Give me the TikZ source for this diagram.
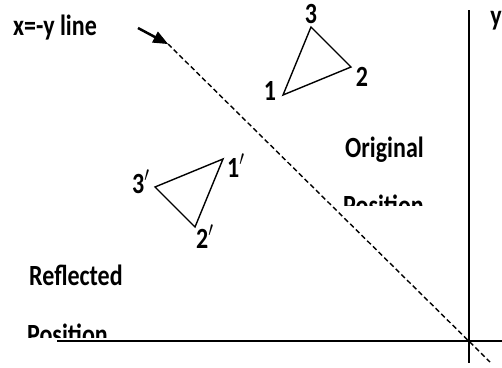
\documentclass[tikz,border=0pt]{standalone}
\usepackage{fontspec}
\setmainfont{Carlito}
\usetikzlibrary{arrows}
\newcommand{\talltext}[1]{\scalebox{1}[1.22]{#1}}

\begin{document}
\begin{tikzpicture}[x=1pt,y=-1pt]
	\tikzset{lbl/.style={font=\bfseries\fontsize{24}{28}\selectfont, inner sep=0pt, anchor=base},
		axis/.style={line width=1.6pt},
		tri/.style={line width=1.4pt, line join=miter}}
	\useasboundingbox (0,0) rectangle (502,367);
	% axes and the mirror line
	\coordinate (ytop) at (469,10);
	\coordinate (ybot) at (469,363);
	\coordinate (xleft) at (57,341);
	\coordinate (xright) at (502,341);
	\coordinate (mtop) at (168,44);
	\coordinate (mbot) at (490,362);
	\draw[axis] (ytop) -- (ybot);
	\draw[axis] (xleft) -- (xright);
	\draw[line width=1.4pt, dash pattern=on 5pt off 3pt] (mtop) -- (mbot);
	\node[lbl] (ylab) at (496,25) {\talltext{y}};
	\node[lbl, anchor=base west] (mlab) at (13,35) {\talltext{x=-y line}};
	\coordinate (astart) at (138,28);
	\draw[line width=2.5pt, -triangle 45] (astart) -- (mtop);
	% original triangle
	\coordinate (a1) at (283,95);
	\coordinate (a2) at (351,67);
	\coordinate (a3) at (311,27);
	\draw[tri] (a1) -- (a2) -- (a3) -- cycle;
	\node[lbl] (n1) at (270,100) {\talltext{1}};
	\node[lbl] (n2) at (362,86) {\talltext{2}};
	\node[lbl] (n3) at (311,23) {\talltext{3}};
	% reflected triangle
	\coordinate (b1) at (223,159);
	\coordinate (b2) at (195,227);
	\coordinate (b3) at (155,187);
	\draw[tri] (b1) -- (b2) -- (b3) -- cycle;
	\node[lbl, anchor=base west] (m1) at (227,177) {\talltext{1$'$}};
	\node[lbl, anchor=base west] (m2) at (196,248) {\talltext{2$'$}};
	\node[lbl, anchor=base west] (m3) at (132,193) {\talltext{3$'$}};
	% captions, cut off at the bottom
	\begin{scope}
		\clip (300,120) rectangle (460,205);
		\node[lbl, anchor=base west] (orig) at (345,157) {\talltext{Original}};
		\node[lbl, anchor=base west] (origpos) at (343,215) {\talltext{Position}};
	\end{scope}
	\begin{scope}
		\clip (20,250) rectangle (200,337);
		\node[lbl, anchor=base west] (refl) at (29,285) {\talltext{Reflected}};
		\node[lbl, anchor=base west] (reflpos) at (27,344) {\talltext{Position}};
	\end{scope}
\end{tikzpicture}
\end{document}
